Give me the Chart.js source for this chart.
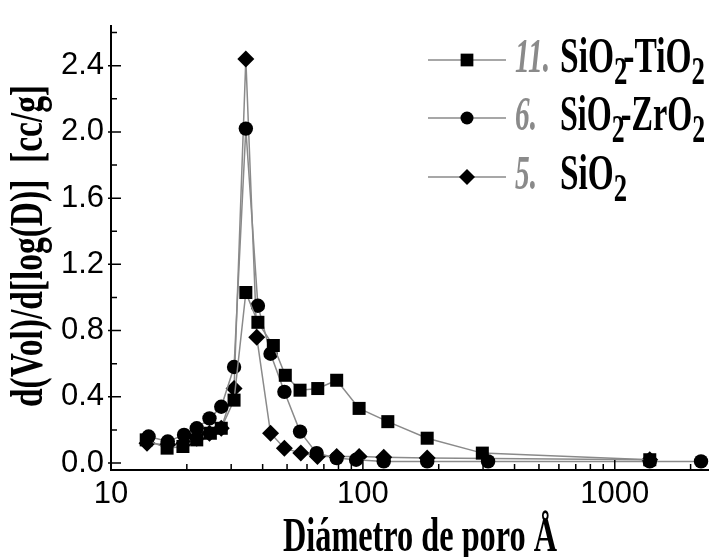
<!DOCTYPE html>
<html lang="es">
<head>
<meta charset="UTF-8">
<title>Distribución de tamaño de poro</title>
<script src="https://cdn.jsdelivr.net/npm/chart.js"></script>
<style>
  html, body { margin: 0; padding: 0; background: #fff; }
  #wrap { position: relative; width: 718px; height: 557px; }
</style>
</head>
<body>
<div id="wrap"><canvas id="chart" width="718" height="557"></canvas></div>
<script>
// pore diameter (Å) and d(Vol)/d[log(D)] values
const tiX = [13.8, 16.7, 19.3, 21.9, 24.8, 27.4, 30.8, 34.3, 38.3, 44.1, 49.2, 56.3, 66.2, 78.7, 96.6, 125.6, 180, 298, 1377];
const tiY = [0.14, 0.09, 0.10, 0.14, 0.18, 0.21, 0.38, 1.03, 0.85, 0.71, 0.53, 0.44, 0.45, 0.50, 0.33, 0.25, 0.15, 0.06, 0.02];

const zrX = [14.1, 16.8, 19.5, 21.9, 24.6, 27.4, 30.8, 34.3, 38.3, 43.0, 48.8, 56.3, 65.5, 78.7, 94, 121, 180, 314, 1377, 2200];
const zrY = [0.16, 0.13, 0.17, 0.21, 0.27, 0.34, 0.58, 2.02, 0.95, 0.66, 0.43, 0.19, 0.06, 0.03, 0.02, 0.01, 0.01, 0.01, 0.01, 0.01];

const siX = [13.9, 16.8, 19.5, 21.9, 24.6, 27.4, 30.8, 34.3, 37.9, 43.0, 48.8, 56.7, 66, 78.7, 96.6, 121, 180, 1377];
const siY = [0.12, 0.11, 0.12, 0.15, 0.18, 0.21, 0.45, 2.44, 0.76, 0.18, 0.09, 0.06, 0.04, 0.04, 0.04, 0.035, 0.03, 0.02];

const xMajor = [10, 100, 1000];
const xMinor = [20, 30, 40, 50, 60, 70, 80, 90, 200, 300, 400, 500, 600, 700, 800, 900, 2000];
const yMajor = [0, 0.4, 0.8, 1.2, 1.6, 2.0, 2.4];
const yMinor = [0.2, 0.6, 1.0, 1.4, 1.8, 2.2, 2.6];

const seriesNum = ['11.', '6.', '5.'];
const lineGray = '#8a8a8a';
const tickFont = '"Liberation Sans Narrow", "Liberation Sans"';

const pts = (xs, ys) => xs.map((v, i) => ({ x: v, y: ys[i] }));

// draw a list of text runs squeezed horizontally to a given width
function drawRuns(ctx, runs, x, base, width) {
  let total = 0;
  runs.forEach(r => { ctx.font = r.font; r.w = ctx.measureText(r.text).width + (r.kern || 0); total += r.w; });
  const k = width / total;
  ctx.save();
  ctx.translate(x, base);
  ctx.scale(k, 1);
  ctx.textBaseline = 'alphabetic';
  ctx.textAlign = 'left';
  let cx = 0;
  runs.forEach(r => {
    ctx.font = r.font;
    ctx.fillStyle = r.color || '#000';
    ctx.fillText(r.text, cx, r.dy || 0);
    cx += r.w;
  });
  ctx.restore();
}

function marker(ctx, style, x, y, r) {
  ctx.beginPath();
  if (style === 'rect') {
    const s = r * Math.SQRT1_2;
    ctx.rect(x - s, y - s, 2 * s, 2 * s);
  } else if (style === 'rectRot') {
    ctx.moveTo(x, y - r); ctx.lineTo(x + r, y); ctx.lineTo(x, y + r); ctx.lineTo(x - r, y);
    ctx.closePath();
  } else {
    ctx.arc(x, y, r, 0, Math.PI * 2);
  }
  ctx.fillStyle = '#000';
  ctx.fill();
}

const big = 'bold 50px "Liberation Serif"';
const sub = 'bold 40px "Liberation Serif"';
const num = 'bold italic 48px "Liberation Serif"';

const decor = {
  id: 'decor',
  afterDraw(chart) {
    const { ctx, chartArea: a, scales: { x, y } } = chart;
    ctx.save();
    ctx.strokeStyle = '#000';
    ctx.lineWidth = 1.5;
    ctx.beginPath();
    xMajor.forEach(v => { const p = x.getPixelForValue(v); ctx.moveTo(p, a.bottom); ctx.lineTo(p, a.bottom - 10); });
    xMinor.forEach(v => { const p = x.getPixelForValue(v); ctx.moveTo(p, a.bottom); ctx.lineTo(p, a.bottom - 6); });
    yMajor.forEach(v => { const p = y.getPixelForValue(v); ctx.moveTo(a.left - 3, p); ctx.lineTo(a.left + 10, p); });
    yMinor.forEach(v => { const p = y.getPixelForValue(v); ctx.moveTo(a.left, p); ctx.lineTo(a.left + 6, p); });
    ctx.stroke();

    // axis titles
    drawRuns(ctx, [{ text: 'Diámetro de poro Å', font: 'bold 48px "Liberation Serif"' }], 283, 551, 274);
    ctx.save();
    ctx.translate(42, 407);
    ctx.rotate(-Math.PI / 2);
    drawRuns(ctx, [{ text: 'd(Vol)/d[log(D)]  [cc/g]', font: 'bold 46px "Liberation Serif"' }], 0, 0, 322);
    ctx.restore();

    // legend
    const rows = [
      { yy: 60, w: 35, runs: [{ text: 'SiO', font: big }, { text: '2', font: sub, dy: 12, kern: -6 }, { text: '-TiO', font: big }, { text: '2', font: sub, dy: 12 }], tw: 145 },
      { yy: 118, w: 22, runs: [{ text: 'SiO', font: big }, { text: '2', font: sub, dy: 12, kern: -6 }, { text: '-ZrO', font: big }, { text: '2', font: sub, dy: 12 }], tw: 145 },
      { yy: 177, w: 22, runs: [{ text: 'SiO', font: big }, { text: '2', font: sub, dy: 12 }], tw: 67 }
    ];
    rows.forEach((r, i) => {
      const ds = chart.data.datasets[i];
      ctx.strokeStyle = lineGray;
      ctx.lineWidth = 1.5;
      ctx.beginPath();
      ctx.moveTo(428, r.yy); ctx.lineTo(506, r.yy);
      ctx.stroke();
      marker(ctx, ds.pointStyle, 467, r.yy, ds.pointStyle === 'rect' ? 9 : (ds.pointStyle === 'circle' ? 6.5 : 8));
      drawRuns(ctx, [{ text: seriesNum[i], font: num, color: lineGray }], 515, r.yy + 12, r.w);
      drawRuns(ctx, r.runs, 560, r.yy + 12, r.tw);
    });
    ctx.restore();
  }
};

const common = {
  borderColor: lineGray,
  borderWidth: 1.5,
  pointBackgroundColor: '#000',
  pointBorderColor: '#000',
  pointBorderWidth: 0,
  showLine: true,
  clip: false
};

new Chart(document.getElementById('chart'), {
  type: 'scatter',
  data: {
    datasets: [
      { ...common, label: '11. SiO2-TiO2', data: pts(tiX, tiY), pointStyle: 'rect', pointRadius: 9.2 },
      { ...common, label: '6. SiO2-ZrO2', data: pts(zrX, zrY), pointStyle: 'circle', pointRadius: 7.2 },
      { ...common, label: '5. SiO2', data: pts(siX, siY), pointStyle: 'rectRot', pointRadius: 8.5 }
    ]
  },
  options: {
    responsive: false,
    animation: false,
    layout: { padding: { top: 23, right: 0, left: 0, bottom: 0 } },
    plugins: { legend: { display: false }, tooltip: { enabled: false } },
    scales: {
      x: {
        type: 'logarithmic',
        min: 10,
        max: 2362,
        afterBuildTicks: s => { s.ticks = xMajor.map(v => ({ value: v })); },
        afterFit: s => { s.height = 87; },
        grid: { drawOnChartArea: false, drawTicks: false },
        border: { color: '#000', width: 2 },
        ticks: {
          padding: 6,
          color: '#000',
          maxRotation: 0,
          autoSkip: false,
          font: { family: tickFont, size: 31 },
          callback: v => String(v)
        }
      },
      y: {
        min: -0.042,
        max: 2.642,
        afterBuildTicks: s => { s.ticks = yMajor.map(v => ({ value: v })); },
        afterFit: s => { s.width = 111; },
        grid: { drawOnChartArea: false, drawTicks: false },
        border: { color: '#000', width: 2 },
        ticks: {
          padding: 7,
          color: '#000',
          font: { family: tickFont, size: 31 },
          callback: v => v.toFixed(1)
        }
      }
    }
  },
  plugins: [decor]
});
</script>
</body>
</html>
